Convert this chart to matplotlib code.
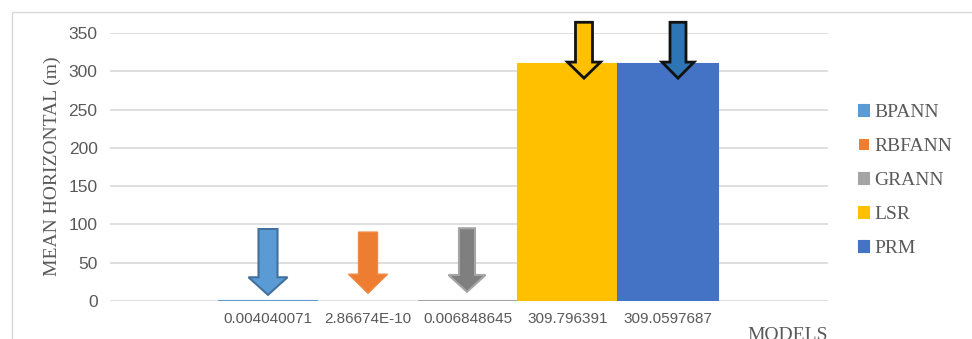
import matplotlib.pyplot as plt
from matplotlib.patches import Polygon, Rectangle

models = ['BPANN', 'RBFANN', 'GRANN', 'LSR', 'PRM']
errors = [0.004040071, 2.86674e-10, 0.006848645, 309.796391, 309.0597687]
value_labels = ['0.004040071', '2.86674E-10', '0.006848645', '309.796391', '309.0597687']
bar_colors = ['#5B9BD5', '#ED7D31', '#A5A5A5', '#FFC000', '#4472C4']

# call-out arrows: (centre x, top, head base, tip) in data units
arrow_x = [-2.0, -1.0, -0.01, 1.16, 2.1]
arrow_top = [94, 90, 95, 364, 364]
arrow_base = [31, 35, 34, 312, 312]
arrow_tip = [8, 10, 12, 291, 291]
arrow_shaft = [0.095, 0.095, 0.08, 0.085, 0.08]
arrow_head = [0.195, 0.195, 0.185, 0.165, 0.16]
arrow_face = ['#5B9BD5', '#ED7D31', '#7F7F7F', '#FFC000', '#2E75B6']
arrow_edge = ['#41719C', '#F08A45', '#A5A5A5', '#111111', '#111111']
arrow_lw = [1.5, 1.0, 1.5, 2.0, 2.0]

grey = '#595959'
serif = ['Liberation Serif', 'DejaVu Serif']
sans = ['Liberation Sans', 'DejaVu Sans']


def arrow_points(x, top, base, tip, shaft, head):
    return [(x - shaft, top), (x + shaft, top), (x + shaft, base),
            (x + head, base), (x, tip), (x - head, base), (x - shaft, base)]


fig = plt.figure(figsize=(9.72, 3.39), dpi=100)
fig.patches.append(Rectangle((12 / 972, -0.1), 1.2, (339 - 12) / 339 + 0.1,
                             transform=fig.transFigure, fill=False,
                             edgecolor='#D9D9D9', linewidth=1))

ax = fig.add_axes([110 / 972, (339 - 301) / 339, 718 / 972, 268 / 339])

positions = [i - 2 for i in range(len(models))]
for pos, val, col, name in zip(positions, errors, bar_colors, models):
    ax.bar(pos, val, width=1.0, color=col, label=name,
           edgecolor=col, linewidth=1.5 if val > 1e-6 else 0, zorder=3)

for i in range(len(models)):
    pts = arrow_points(arrow_x[i], arrow_top[i], arrow_base[i], arrow_tip[i],
                       arrow_shaft[i], arrow_head[i])
    ax.add_patch(Polygon(pts, closed=True, facecolor=arrow_face[i],
                         edgecolor=arrow_edge[i], linewidth=arrow_lw[i],
                         joinstyle='miter', clip_on=False, zorder=5))

for pos, text in zip(positions, value_labels):
    ax.annotate(text, xy=(pos, 0), xytext=(0, -15.5), textcoords='offset points',
                ha='center', va='baseline', fontsize=11, color=grey,
                family=sans, annotation_clip=False)

ax.set_xlim(-3.58, 3.6)
ax.set_ylim(0, 350)
ax.set_yticks(range(0, 351, 50))
ax.set_xticks([])
ax.grid(axis='y', color='#D9D9D9', linewidth=1.2, zorder=0)
ax.set_axisbelow(True)
for side in ax.spines.values():
    side.set_visible(False)
ax.tick_params(axis='y', length=0, pad=9, labelsize=12.5, labelcolor=grey)
for lbl in ax.get_yticklabels():
    lbl.set_family(sans)

fig.text(52 / 972, 1 - 166 / 339, 'MEAN HORIZONTAL (m)', rotation=90,
         ha='center', va='center', fontsize=14, color=grey, family=serif)
fig.text(828 / 972, 1 - 340 / 339, 'MODELS', ha='right', va='baseline',
         fontsize=14, color=grey, family=serif)

leg = ax.legend(loc='upper left', bbox_to_anchor=(859 / 972, 1 - 104 / 339),
                bbox_transform=fig.transFigure, frameon=False,
                prop={'family': serif, 'size': 14}, labelcolor=grey,
                handlelength=0.5, handleheight=0.5, handletextpad=0.3,
                labelspacing=0.875, borderaxespad=0, borderpad=0)

fig.savefig('out.png', dpi=100)
